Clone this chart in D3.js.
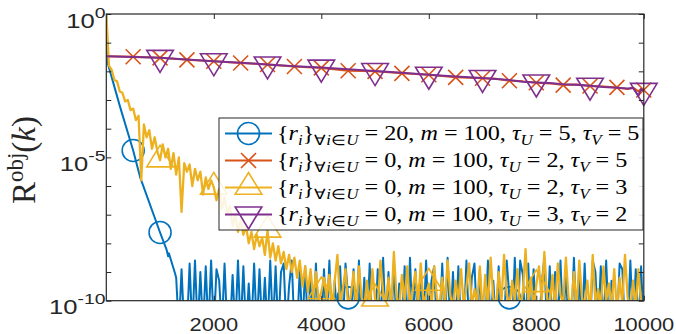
<!DOCTYPE html>
<html>
<head>
<meta charset="utf-8">
<script src="https://cdn.jsdelivr.net/npm/d3@7"></script>
<style>
  body { margin: 0; background: #fff; }
  svg { display: block; }
  text { white-space: pre; }
</style>
</head>
<body>
<svg width="676" height="334"></svg>
<script>
// x: iteration k, y: log10 of R^obj(k)
const xTicks = [2000, 4000, 6000, 8000, 10000]
const yLabelExps = [0, -5, -10]
const sampleStep = 50

// {r_i}=20 : clean linear decay, then noise floor around 1e-9
const blueHeadK = [0, 20, 255, 500, 627, 1000, 1123, 1150, 1165, 1278]
const blueHeadLog = [0, -1.67, -3.23, -4.76, -5.68, -7.62, -8.23, -8.45, -8.35, -9.04]
const blueTailStart = 1300
const blueTailLog = [
  -9.2, -11, -8.9, -11, -11, -8.7, -11, -8.6, -11, -9.0,
  -11, -8.8, -11, -8.6, -11, -8.9, -9.3, -11, -8.7, -11,
  -11, -9.1, -11, -8.6, -11, -8.8, -11, -9.4, -11, -8.7,
  -11, -8.9, -11, -9.2, -11, -8.6, -11, -8.8, -11, -9.0,
  -8.7, -11, -9.5, -8.6, -11, -11, -8.9, -11, -8.8, -11,
  -9.1, -11, -8.7, -11, -11, -8.9, -11, -8.6, -11, -9.3,
  -11, -8.8, -11, -8.7, -9.9, -11, -8.9, -11, -8.6, -11,
  -9.2, -11, -8.7, -11, -11, -8.9, -11, -8.5, -11, -9.0,
  -11, -8.7, -11, -9.4, -11, -8.8, -11, -8.5, -11, -8.9,
  -11, -9.1, -11, -8.6, -11, -9.3, -8.8, -11, -11, -8.7,
  -11, -8.5, -11, -9.0, -11, -8.8, -11, -11, -8.6, -11,
  -9.2, -8.7, -11, -8.9, -11, -11, -8.6, -11, -9.3, -11,
  -8.8, -11, -11, -8.6, -9.9, -11, -8.5, -11, -8.6, -9.1,
  -11, -8.7, -11, -8.9, -11, -11, -9.4, -8.5, -11, -8.8,
  -11, -9.0, -11, -8.6, -11, -8.9, -11, -11, -8.5, -11,
  -9.2, -11, -8.7, -11, -11, -8.6, -9.0, -11, -8.8, -11,
  -8.6, -11, -9.3, -11, -11, -8.7, -8.9, -11, -11, -8.6,
  -11, -8.9, -11, -8.8, -11
]

// {r_i}=0, tau_U=2, tau_V=3 : noisy decay, k = 0, 50, ..., 10000
const yellowLog = [
  0, -1.8, -1.95, -2.3, -2.35, -2.7, -2.75, -3.05, -3.0, -3.35,
  -3.3, -3.7, -3.55, -5.8, -3.85, -4.3, -4.05, -4.7, -4.3, -4.8,
  -5.1, -4.55, -5.0, -4.7, -5.4, -4.85, -5.6, -5.0, -6.9, -5.2,
  -5.5, -5.25, -6.0, -5.4, -5.8, -5.5, -6.3, -5.7, -6.1, -5.8,
  -6.05, -6.5, -6.1, -6.8, -6.4, -7.0, -6.7, -7.4, -7.0, -7.6,
  -7.2, -7.7, -7.4, -8.0, -7.6, -8.2, -7.7, -8.1, -7.8, -8.4,
  -7.55, -8.5, -8.0, -8.6, -8.1, -8.7, -8.3, -8.9, -8.4, -9.0,
  -8.5, -9.2, -8.6, -9.5, -8.8, -9.7, -8.9, -9.9, -9.0, -10.0,
  -9.7, -9.2, -9.9, -9.1, -10.3, -9.3,
  -8.4, -10.1, -9.6, -8.9, -10.2, -9.8, -9.0, -10.3, -8.8, -9.9,
  -10.2, -9.3, -10.4, -8.9, -9.95, -10.2, -8.6, -9.7, -10.1, -9.2,
  -10.3, -8.3, -9.9, -10.2, -9.1, -10.0, -8.8, -10.3, -9.6, -9.0,
  -10.2, -8.7, -10.1, -9.8, -9.4, -10.3, -8.8, -9.9, -10.2, -9.2,
  -10.1, -8.6, -9.8, -10.3, -9.3, -10.0, -8.9, -10.2, -9.5, -8.7,
  -10.2, -9.6, -10.1, -8.8, -10.5, -9.1, -10.2, -8.5, -9.9, -10.3,
  -9.0, -10.1, -8.4, -9.8, -10.2, -9.3, -10.0, -8.9, -10.3, -9.7,
  -8.2, -10.1, -9.2, -10.3, -9.45, -8.8, -10.0, -8.3, -9.9, -10.2,
  -9.1, -10.3, -8.7, -9.8, -10.1, -8.5, -9.9, -10.2, -9.0, -10.3,
  -8.6, -9.9, -10.2, -9.3, -10.5, -8.4, -10.1, -9.6, -10.3, -8.8,
  -10.0, -9.4, -10.2, -8.9, -10.4, -9.2, -10.1, -8.4, -9.9, -10.3,
  -9.3, -10.2, -8.9, -10.1, -10.5
]

// the two slow series
const slowK = [0, 500, 1000, 1500, 2000, 2500, 3000, 3500, 4000, 4500, 5000, 5500, 6000, 6500, 7000,
  7250, 7500, 7750, 8000, 8250, 8500, 8750, 9000, 9250, 9500, 9700, 9800, 9900, 9950, 10000]
const orangeLog = [-1.47, -1.49, -1.53, -1.60, -1.65, -1.71, -1.76, -1.83, -1.88, -1.98, -2.00, -2.07, -2.12, -2.21, -2.24,
  -2.26, -2.33, -2.35, -2.40, -2.42, -2.48, -2.46, -2.51, -2.53, -2.56, -2.62, -2.57, -2.70, -2.61, -2.65]
const purpleLog = [-1.47, -1.50, -1.53, -1.59, -1.65, -1.70, -1.76, -1.82, -1.87, -1.93, -1.99, -2.05, -2.12, -2.18, -2.23,
  -2.27, -2.30, -2.36, -2.39, -2.41, -2.45, -2.47, -2.50, -2.55, -2.57, -2.60, -2.58, -2.85, -2.62, -2.68]

const legendR = ["20", "0", "0", "0"]
const legendM = ["100", "100", "100", "100"]
const legendTauU = ["5", "2", "2", "3"]
const legendTauV = ["5", "5", "3", "2"]

const plot = { left: 106.3, right: 643.8, top: 14, bottom: 300.7 }
const axisColor = "#262626"
const sansFont = "'Liberation Sans', Arial, sans-serif"
const serifFont = "'Liberation Serif', 'Times New Roman', serif"

const svg = d3.select("svg")
const x = d3.scaleLinear().domain([0, 10000]).range([plot.left, plot.right])
const y = d3.scaleLog().domain([1e-10, 1]).range([plot.bottom, plot.top])

svg.append("defs").append("clipPath").attr("id", "clip").append("rect")
    .attr("x", plot.left).attr("y", plot.top)
    .attr("width", plot.right - plot.left).attr("height", plot.bottom - plot.top)

const pts = (ks, logs) => ks.map((k, i) => ({ k, v: Math.pow(10, logs[i]) }))
const series = [
    { color: "#0072BD", marker: "o", every: 500, width: 2,
      data: pts(blueHeadK, blueHeadLog).concat(pts(blueTailLog.map((_, i) => blueTailStart + i * sampleStep), blueTailLog)) },
    { color: "#D95319", marker: "x", every: 500, width: 2, data: pts(slowK, orangeLog) },
    { color: "#EDB120", marker: "^", every: 1000, width: 2.3, data: pts(yellowLog.map((_, i) => i * sampleStep), yellowLog) },
    { color: "#7E2F8E", marker: "v", every: 1000, width: 2, data: pts(slowK, purpleLog) }
]

function drawMarker(g, type, cx, cy, color) {
    let m
    if (type === "o") m = g.append("circle").attr("cx", cx).attr("cy", cy).attr("r", 11)
    else if (type === "x") m = g.append("path").attr("d", `M${cx - 7.5},${cy - 7.5}L${cx + 7.5},${cy + 7.5}M${cx - 7.5},${cy + 7.5}L${cx + 7.5},${cy - 7.5}`)
    else if (type === "^") m = g.append("path").attr("d", `M${cx},${cy - 15}L${cx + 13.3},${cy + 6.7}L${cx - 13.3},${cy + 6.7}Z`)
    else m = g.append("path").attr("d", `M${cx},${cy + 14.5}L${cx + 13.3},${cy - 7.5}L${cx - 13.3},${cy - 7.5}Z`)
    m.attr("fill", "none").attr("stroke", color).attr("stroke-width", 1.6)
}

const line = d3.line().x(d => x(d.k)).y(d => y(d.v))
const marks = svg.append("g")

series.forEach(s => {
    marks.append("path").datum(s.data)
        .attr("clip-path", "url(#clip)")
        .attr("fill", "none").attr("stroke", s.color).attr("stroke-width", s.width)
        .attr("stroke-linejoin", "round")
        .attr("d", line)
    s.data.filter(d => d.k > 0 && d.k % s.every === 0 && d.v >= 1e-10 && d.v <= 1)
        .forEach(d => drawMarker(marks, s.marker, x(d.k), y(d.v), s.color))
})

// Axes: ticks inside on all four sides
const decades = d3.range(0, 11).map(e => Math.pow(10, -e))
function styleAxis(g) {
    g.select(".domain").remove()
    g.selectAll(".tick line").attr("stroke", axisColor).attr("stroke-width", 1)
}
svg.append("g").attr("transform", `translate(0,${plot.bottom})`)
    .call(d3.axisBottom(x).tickValues(xTicks).tickSize(-5).tickFormat("")).call(styleAxis)
svg.append("g").attr("transform", `translate(0,${plot.top})`)
    .call(d3.axisTop(x).tickValues(xTicks).tickSize(-5).tickFormat("")).call(styleAxis)
svg.append("g").attr("transform", `translate(${plot.left},0)`)
    .call(d3.axisLeft(y).tickValues(decades).tickSize(-5).tickFormat("")).call(styleAxis)
svg.append("g").attr("transform", `translate(${plot.right},0)`)
    .call(d3.axisRight(y).tickValues(decades).tickSize(-5).tickFormat("")).call(styleAxis)
svg.append("rect")
    .attr("x", plot.left).attr("y", plot.top)
    .attr("width", plot.right - plot.left).attr("height", plot.bottom - plot.top)
    .attr("fill", "none").attr("stroke", axisColor).attr("stroke-width", 1.2)

// Tick labels
xTicks.forEach(t => {
    svg.append("text")
        .attr("transform", `translate(${x(t)},331) scale(1.15,1)`)
        .attr("text-anchor", "middle").attr("font-family", sansFont).attr("font-size", 19)
        .attr("fill", axisColor).text(t)
})
yLabelExps.forEach(e => {
    const t = svg.append("text")
        .attr("transform", `translate(105.5,${y(Math.pow(10, e)) + 13.5}) scale(1.25,1)`)
        .attr("text-anchor", "end").attr("font-family", sansFont).attr("font-size", 20.5)
        .attr("fill", axisColor)
    t.append("tspan").text("10")
    t.append("tspan").attr("dy", -10).attr("font-size", 15.5).text(e === 0 ? "0" : "-" + (-e))
})

// Y axis title R^obj(k)
const yt = svg.append("text")
    .attr("transform", `translate(35,160) rotate(-90)`)
    .attr("text-anchor", "middle").attr("font-family", serifFont).attr("font-size", 33)
    .attr("fill", axisColor)
yt.append("tspan").text("R")
yt.append("tspan").attr("dy", -12).attr("font-size", 23).text("obj")
yt.append("tspan").attr("dy", 12).text("(")
yt.append("tspan").attr("font-style", "italic").text("k")
yt.append("tspan").text(")")

// Legend
const lg = { x: 219, y: 118, w: 424, h: 112, row0: 133.5, rowStep: 27, lineX0: 225, lineX1: 272, textX: 277, textW: 362 }
svg.append("rect").attr("x", lg.x).attr("y", lg.y).attr("width", lg.w).attr("height", lg.h)
    .attr("fill", "#fff").attr("fill-opacity", 0.86).attr("stroke", axisColor).attr("stroke-width", 1)

function legendParts(i) {
    return [
        { t: "{" }, { t: "r", it: 1 }, { t: "i", it: 1, sub: 1 }, { t: "}" },
        { t: "∀", sub: 1 }, { t: "i", it: 1, sub: 1 }, { t: "∈", sub: 1 }, { t: "U", it: 1, sub: 1 },
        { t: " = " + legendR[i] + ", " }, { t: "m", it: 1 }, { t: " = " + legendM[i] + ", " },
        { t: "τ", it: 1 }, { t: "U", it: 1, sub: 1 }, { t: " = " + legendTauU[i] + ", " },
        { t: "τ", it: 1 }, { t: "V", it: 1, sub: 1 }, { t: " = " + legendTauV[i] }
    ]
}

let legendScale = null
series.forEach((s, i) => {
    const cy = lg.row0 + i * lg.rowStep
    svg.append("line").attr("x1", lg.lineX0).attr("x2", lg.lineX1).attr("y1", cy).attr("y2", cy)
        .attr("stroke", s.color).attr("stroke-width", 2)
    drawMarker(svg, s.marker, (lg.lineX0 + lg.lineX1) / 2, cy, s.color)
    const txt = svg.append("text").attr("font-family", serifFont).attr("font-size", 20).attr("fill", "#000")
    let inSub = false
    legendParts(i).forEach(p => {
        const ts = txt.append("tspan").text(p.t)
        if (p.it) ts.attr("font-style", "italic")
        if (p.sub) ts.attr("font-size", 14)
        if (p.sub && !inSub) ts.attr("dy", 5)
        if (!p.sub && inSub) ts.attr("dy", -5)
        inSub = !!p.sub
    })
    if (legendScale === null) legendScale = lg.textW / txt.node().getComputedTextLength()
    txt.attr("transform", `translate(${lg.textX},${cy + 6.5}) scale(${legendScale},1)`)
})
</script>
</body>
</html>
